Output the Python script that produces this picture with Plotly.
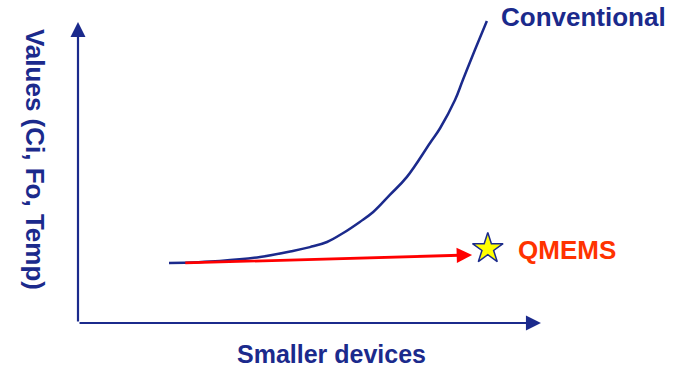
import plotly.graph_objects as go

# Conventional trend: value grows steeply as devices shrink
conv_x = [1.97, 3.07, 3.94, 4.65, 5.02, 5.39, 5.74, 6.10, 6.39, 6.75, 7.12, 7.62, 7.84, 8.16, 8.33, 8.59, 8.85]
conv_y = [2.00, 2.07, 2.20, 2.40, 2.53, 2.70, 3.00, 3.37, 3.70, 4.27, 4.87, 6.00, 6.50, 7.43, 8.10, 9.10, 10.07]

# QMEMS trend: nearly flat
mems_x = [2.29, 8.53]
mems_y = [2.00, 2.27]

# QMEMS target marker
star_x = [8.87]
star_y = [2.48]

# Axis extents (origin to arrow tip)
axis_x_end = 10.02
axis_y_end = 10.03

NAVY = "#1B2A8C"
RED = "#FF0000"
ORANGE = "#FF3300"
FONT = "Arial, Liberation Sans, sans-serif"

fig = go.Figure()

fig.add_trace(go.Scatter(
    x=conv_x, y=conv_y, mode="lines",
    line=dict(color=NAVY, width=2.5, shape="spline", smoothing=1.1),
    hoverinfo="skip", showlegend=False,
))

fig.add_trace(go.Scatter(
    x=star_x, y=star_y, mode="markers",
    marker=dict(symbol="star", size=23, color="#FFFF00",
                line=dict(color=NAVY, width=1.5)),
    cliponaxis=False, hoverinfo="skip", showlegend=False,
))

annotations = [
    # x axis arrow
    dict(x=axis_x_end, y=0, ax=0, ay=0, xref="x", yref="y", axref="x", ayref="y",
         text="", showarrow=True, arrowhead=2, arrowsize=1.36, arrowwidth=2.2,
         arrowcolor=NAVY),
    # y axis arrow
    dict(x=0, y=axis_y_end, ax=0, ay=0, xref="x", yref="y", axref="x", ayref="y",
         text="", showarrow=True, arrowhead=2, arrowsize=1.36, arrowwidth=2.2,
         arrowcolor=NAVY),
    # QMEMS arrow
    dict(x=mems_x[1], y=mems_y[1], ax=mems_x[0], ay=mems_y[0],
         xref="x", yref="y", axref="x", ayref="y",
         text="", showarrow=True, arrowhead=2, arrowsize=1.1, arrowwidth=2.8,
         arrowcolor=RED),
    dict(x=9.11, y=10.2, xref="x", yref="y", text="<b>Conventional</b>",
         showarrow=False, xanchor="left", yanchor="middle",
         font=dict(family=FONT, size=26, color=NAVY)),
    dict(x=9.48, y=2.45, xref="x", yref="y", text="<b>QMEMS</b>",
         showarrow=False, xanchor="left", yanchor="middle",
         font=dict(family=FONT, size=26, color=ORANGE)),
    # axis titles
    dict(x=0.5487, y=-0.1, xref="paper", yref="paper", text="<b>Smaller devices</b>",
         showarrow=False, xanchor="center", yanchor="middle", borderpad=0,
         font=dict(family=FONT, size=25, color=NAVY)),
    dict(x=-0.0931, y=0.526, xref="paper", yref="paper", text="<b>Values (Ci, Fo, Temp)</b>",
         showarrow=False, xanchor="center", yanchor="middle", textangle=90,
         font=dict(family=FONT, size=26, color=NAVY)),
]

fig.update_layout(
    width=679, height=369,
    margin=dict(l=78, r=139, t=13, b=46, pad=0),
    paper_bgcolor="white", plot_bgcolor="white",
    xaxis=dict(range=[0, 10], visible=False, fixedrange=True),
    yaxis=dict(range=[0, 10.3333], visible=False, fixedrange=True),
    annotations=annotations,
    showlegend=False,
)

fig.write_html("out.html", config={"displayModeBar": False})
